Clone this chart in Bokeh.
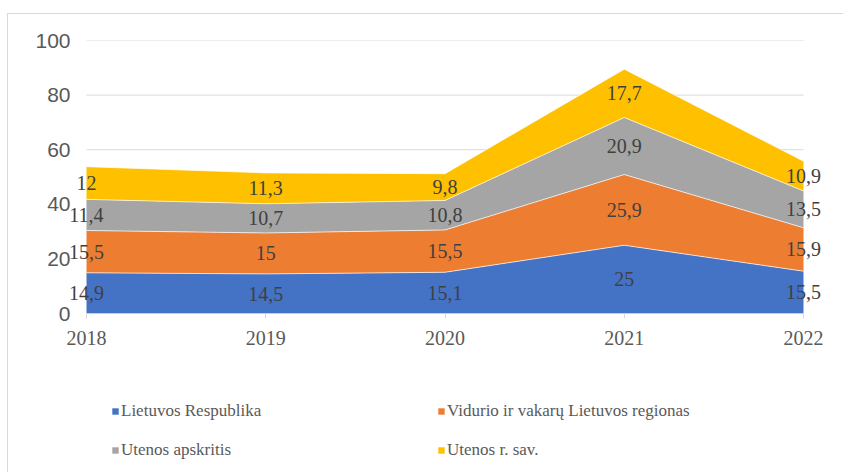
from bokeh.plotting import figure
from bokeh.layouts import column
from bokeh.models import (ColumnDataSource, Range1d, FixedTicker, LabelSet,
                          Legend, LegendItem)
from bokeh.embed import file_html
from bokeh.resources import INLINE

years = [2018, 2019, 2020, 2021, 2022]
series_names = ["Lietuvos Respublika", "Vidurio ir vakarų Lietuvos regionas",
                "Utenos apskritis", "Utenos r. sav."]
lr = [14.9, 14.5, 15.1, 25.0, 15.5]
vvl = [15.5, 15.0, 15.5, 25.9, 15.9]
uap = [11.4, 10.7, 10.8, 20.9, 13.5]
urs = [12.0, 11.3, 9.8, 17.7, 10.9]
colors = ["#4472C4", "#ED7D31", "#A5A5A5", "#FFC000"]
y_ticks = [0, 20, 40, 60, 80, 100]

series = [lr, vvl, uap, urs]
keys = ["lr", "vvl", "uap", "urs"]

data = {"year": years}
for k, s in zip(keys, series):
    data[k] = s
src = ColumnDataSource(data)

PX = 179.25  # pixels per year
pad_l = 21 / PX
pad_r = 21 / PX
TOTAL_W = 836

p = figure(frame_width=759, frame_height=273, output_backend="svg",
           toolbar_location=None,
           x_range=Range1d(years[0] - pad_l, years[-1] + pad_r),
           y_range=Range1d(0, 100),
           min_border_left=57, min_border_right=20, min_border_top=26,
           min_border_bottom=45)
p.outline_line_color = None

# gridlines spanning only the data range
p.segment(x0=[years[0]] * len(y_ticks), x1=[years[-1]] * len(y_ticks),
          y0=y_ticks, y1=y_ticks, line_color="#d9d9d9", line_width=1)

renderers = p.varea_stack(stackers=keys, x="year", color=colors, source=src)

cum = [0.0] * len(years)
label_x, label_y, label_t = [], [], []
for s in series:
    mids, new = [], []
    for i, v in enumerate(s):
        mids.append(cum[i] + v / 2)
        new.append(cum[i] + v)
    label_x += years
    label_y += mids
    label_t += [f"{v:g}".replace(".", ",") for v in s]
    cum = new
    p.line(years, cum, line_color="white", line_width=1, line_alpha=0.7)

lab_src = ColumnDataSource(dict(x=label_x, y=label_y, t=label_t))
labels = LabelSet(x="x", y="y", text="t", source=lab_src,
                  text_align="center", text_baseline="middle",
                  text_font="Liberation Serif", text_font_size="20px",
                  text_color="#404040")
p.add_layout(labels)

p.xaxis.ticker = FixedTicker(ticks=years)
p.xaxis.axis_line_color = None
p.xaxis.major_tick_line_color = "#d9d9d9"
p.xaxis.major_tick_out = 5
p.xaxis.major_tick_in = 0
p.xaxis.minor_tick_line_color = None
p.xaxis.major_label_text_font = "Liberation Serif"
p.xaxis.major_label_text_font_size = "20px"
p.xaxis.major_label_text_color = "#595959"
p.xaxis.major_label_standoff = 12

p.yaxis.ticker = FixedTicker(ticks=y_ticks)
p.yaxis.axis_line_color = None
p.yaxis.major_tick_line_color = None
p.yaxis.major_tick_out = 0
p.yaxis.major_tick_in = 0
p.yaxis.minor_tick_line_color = None
p.yaxis.major_label_text_font = "Liberation Sans"
p.yaxis.major_label_text_font_size = "21px"
p.yaxis.major_label_text_color = "#595959"
p.yaxis.major_label_standoff = -5

p.xgrid.grid_line_color = None
p.ygrid.grid_line_color = None

# legend panel below the chart (its areas lie outside the visible range)
lg = figure(width=TOTAL_W, height=114, output_backend="svg", toolbar_location=None,
            x_range=Range1d(0, 1), y_range=Range1d(0, 1),
            x_axis_type=None, y_axis_type=None,
            min_border_left=0, min_border_right=0, min_border_top=0,
            min_border_bottom=0)
lg.outline_line_color = None
lg.xgrid.grid_line_color = None
lg.ygrid.grid_line_color = None
lg_rends = lg.varea_stack(stackers=keys, x="year", color=colors, source=src)

order = [0, 2, 1, 3]  # column-major fill -> row-major appearance
items = [LegendItem(label=series_names[i], renderers=[lg_rends[i]]) for i in order]
legend = Legend(items=items, location=(46, 12), ncols=2,
                glyph_width=8, glyph_height=8, label_width=297,
                label_height=20, label_standoff=2, spacing=19,
                padding=0, margin=0, border_line_color=None,
                background_fill_alpha=0,
                label_text_font="Liberation Serif", label_text_font_size="17px",
                label_text_color="#595959")
lg.add_layout(legend, "center")

layout = column(p, lg, spacing=0)
layout.styles = {"border-top": "1px solid #d9d9d9", "border-left": "1px solid #d9d9d9",
                 "margin-left": "7px", "margin-top": "13px"}

open("out.html", "w").write(file_html(layout, INLINE))
